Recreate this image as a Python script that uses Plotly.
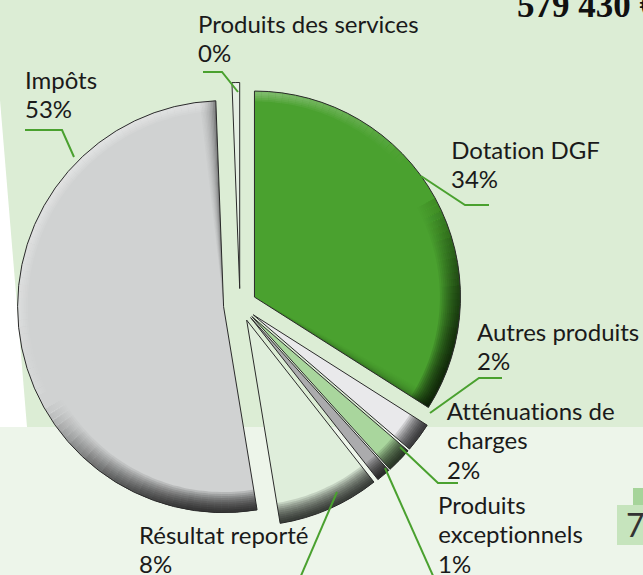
import math
import plotly.graph_objects as go

# ---- data ----
categories = ["Dotation DGF", "Autres produits", "Atténuations de charges",
              "Produits exceptionnels", "Résultat reporté", "Impôts",
              "Produits des services"]
values = [34.0, 2.3, 2.0, 1.1, 8.0, 52.0, 0.6]
pct_labels = ["34%", "2%", "2%", "1%", "8%", "53%", "0%"]
label_lines = [["Dotation DGF"], ["Autres produits"], ["Atténuations de", "charges"],
               ["Produits", "exceptionnels"], ["Résultat reporté"], ["Impôts"],
               ["Produits des services"]]
slice_colors = ["#4aa12f", "#e9e9eb", "#a9d69d", "#ababad", "#dfeedb", "#d0d2d2", "#e4eee2"]
total_text = "579 430 €"
page_number = "7"

W, H = 643, 575
CX, CY, R, PULL = 240, 305, 206, 16.5


def px(x, y):
    return x / W, 1 - y / H


def clamp(v, lo=0.0, hi=1.0):
    return max(lo, min(hi, v))


def shadow_f(theta):
    return clamp(1.3 * math.cos(math.radians(theta - 150)))


def light_f(theta):
    return clamp(math.cos(math.radians(theta - 320)))


fig = go.Figure()
total = sum(values)
TR = "rgba(0,0,0,0)"


def add_pie(vals, cols, dom, hole=0.0, lw=None, lc=None):
    keep = [(v, c, (lw[k] if lw else 0)) for k, (v, c) in enumerate(zip(vals, cols)) if v > 0]
    fig.add_trace(go.Pie(
        values=[k[0] for k in keep], sort=False, direction="clockwise", rotation=0,
        hole=hole, textinfo="none", hoverinfo="skip", showlegend=False,
        marker=dict(colors=[k[1] for k in keep],
                    line=dict(color=lc or "#2a2a2a", width=[k[2] for k in keep])),
        domain=dom))


shadow_holes = [0.90 + 0.0095 * k for k in range(10)]
light_holes = [0.95 + 0.0085 * k for k in range(5)]

cum = 0.0
for i, v in enumerate(values):
    a0 = cum / total * 360
    a1 = (cum + v) / total * 360
    m = math.radians((a0 + a1) / 2)
    cx = CX + PULL * math.sin(m)
    cy = CY - PULL * math.cos(m)
    dom = dict(x=[(cx - R) / W, (cx + R) / W], y=[1 - (cy + R) / H, 1 - (cy - R) / H])
    before, after = cum, total - cum - v

    # slice fill
    add_pie([before, v, after], [TR, slice_colors[i], TR], dom)

    # sub-wedges for angle-dependent shading
    n = max(1, math.ceil((a1 - a0) / 2.0))
    sub = [v / n] * n
    mids = [a0 + (k + 0.5) * (a1 - a0) / n for k in range(n)]

    # highlight along the rim (top-left)
    for hole in light_holes:
        cols = [TR] + [f"rgba(255,255,255,{0.09 * light_f(t):.3f})" for t in mids] + [TR]
        add_pie([before] + sub + [after], cols, dom, hole=hole)

    # radial edge shadows
    if categories[i] in ("Impôts", "Dotation DGF"):
        big = categories[i] == "Impôts"
        ew = 4.5 if big else 3.5
        alph = [0.02, 0.04, 0.06, 0.09, 0.12, 0.16, 0.21, 0.27, 0.35, 0.45]
        if not big:
            alph = [a * 0.6 for a in alph]
        ev = ew / 360 * total
        es = [ev / len(alph)] * len(alph)
        cols = [TR, TR] + [f"rgba(0,0,0,{a:.3f})" for a in alph] + [TR]
        add_pie([before, v - ev] + es + [after], cols, dom)

    # shadow along the rim (bottom-right)
    for hole in shadow_holes:
        cols = [TR] + [f"rgba(0,0,0,{0.12 * shadow_f(t):.3f})" for t in mids] + [TR]
        add_pie([before] + sub + [after], cols, dom, hole=hole)

    # outline on top
    add_pie([before, v, after], [TR, TR, TR], dom, lw=[0, 1, 0])
    cum += v

shapes = []
# background: green upper area with white left wedge, pale lower area
gx = [(0, 0), (W, 0), (W, 427), (27, 427), (0, 100)]
path = "M " + " L ".join(f"{px(a, b)[0]},{px(a, b)[1]}" for a, b in gx) + " Z"
shapes.append(dict(type="path", path=path, xref="paper", yref="paper",
                   fillcolor="#dcedd5", line=dict(width=0), layer="below"))
x0, y0 = px(0, 575)
x1, y1 = px(W, 427)
shapes.append(dict(type="rect", x0=x0, y0=y0, x1=x1, y1=y1, xref="paper", yref="paper",
                   fillcolor="#edf5ea", line=dict(width=0), layer="below"))
# page number boxes bottom right
for (a, b, c, d, col) in [(633, 488, 643, 508, "#a6d49a"), (617, 505, 643, 545, "#c6e4bd")]:
    xa, ya = px(a, d)
    xb, yb = px(c, b)
    shapes.append(dict(type="rect", x0=xa, y0=ya, x1=xb, y1=yb, xref="paper", yref="paper",
                       fillcolor=col, line=dict(width=0), layer="below"))

# leader lines
leaders = [
    [(421, 176), (465, 205), (489, 205)],
    [(430, 413), (479, 378), (502, 378)],
    [(400, 447), (438, 483), (458, 483)],
    [(385, 468), (434, 578)],
    [(337, 492), (300, 578)],
    [(25, 130), (62, 130), (74, 157)],
    [(203, 72), (222, 72), (238, 92)],
]
for pts in leaders:
    p = "M " + " L ".join(f"{px(a, b)[0]},{px(a, b)[1]}" for a, b in pts)
    shapes.append(dict(type="path", path=p, xref="paper", yref="paper",
                       line=dict(color="#4aa12f", width=2)))

# label positions (left x, first baseline y)
label_pos = [(449, 158), (475, 340), (445, 419), (436, 513), (137, 543), (23, 88), (196, 32)]
annotations = []
FS = 24
for lines, pct, (lx, ly) in zip(label_lines, pct_labels, label_pos):
    allines = lines + [pct]
    for i, t in enumerate(allines):
        yy = ly + i * 29.5 - 0.36 * FS
        ax, ay = px(lx, yy)
        annotations.append(dict(text=t, x=ax, y=ay, xref="paper", yref="paper",
                                xanchor="left", yanchor="middle", showarrow=False,
                                font=dict(family="Lato", size=FS, color="#1a1a1a")))

TFS = 35
ax, ay = px(515, 17 - 0.33 * TFS)
annotations.append(dict(text=f"<b>{total_text}</b>", x=ax, y=ay, xref="paper", yref="paper",
                        xanchor="left", yanchor="middle", showarrow=False,
                        font=dict(family="Liberation Serif", size=TFS, color="#111")))
ax, ay = px(624, 524)
annotations.append(dict(text=page_number, x=ax, y=ay, xref="paper", yref="paper",
                        xanchor="left", yanchor="middle", showarrow=False,
                        font=dict(family="Lato", size=32, color="#333")))

fig.update_layout(width=W, height=H, margin=dict(l=0, r=0, t=0, b=0),
                  paper_bgcolor="white", plot_bgcolor="white",
                  shapes=shapes, annotations=annotations)
post = ("document.body.style.margin='0';document.body.style.overflow='hidden';"
        "var s=document.createElement('style');"
        "s.innerHTML='text{font-variant-ligatures:none !important;font-feature-settings:\"liga\" 0 !important;}';"
        "document.head.appendChild(s);")
fig.write_html("out.html", post_script=post, config={"displayModeBar": False})
